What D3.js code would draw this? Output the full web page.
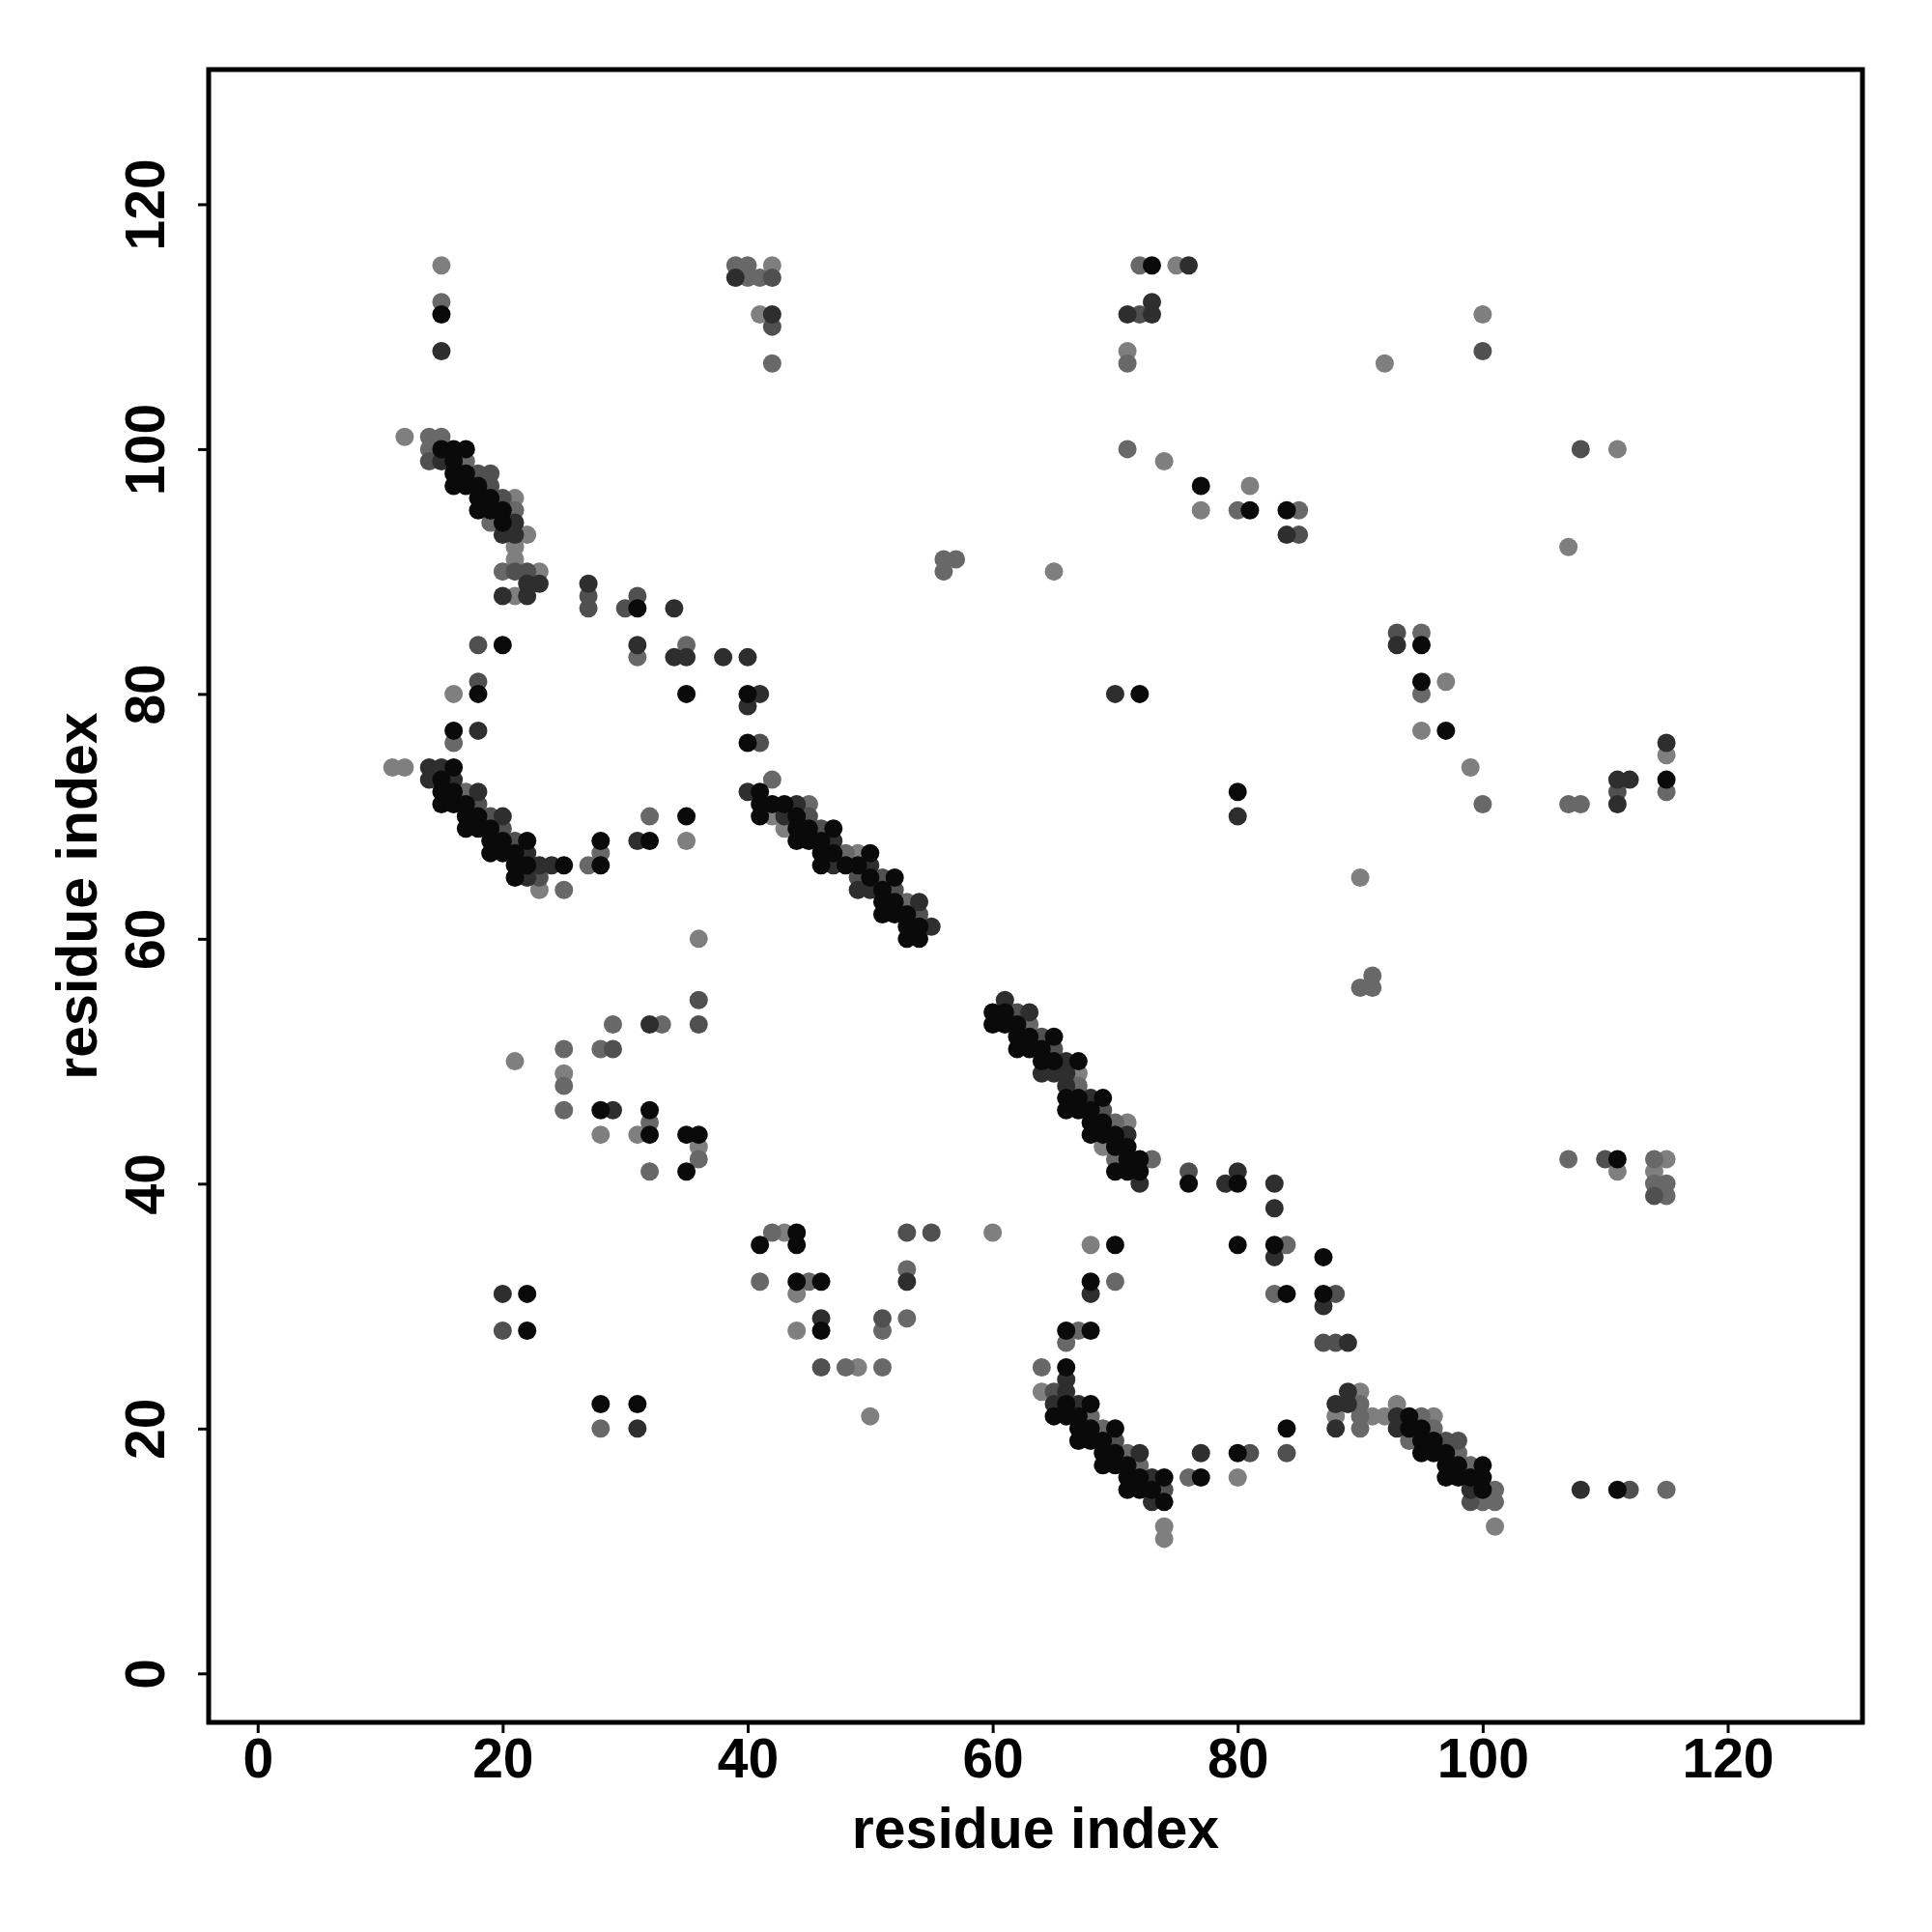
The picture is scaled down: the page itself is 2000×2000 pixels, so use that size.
<!DOCTYPE html>
<html>
<head>
<meta charset="utf-8">
<script src="https://cdn.jsdelivr.net/npm/d3@7"></script>
<style>
  body { margin: 0; background: #fff; }
  text { font-family: "Liberation Sans", Arial, Helvetica, sans-serif; font-weight: bold; }
</style>
</head>
<body>
<div id="vis"></div>
<script>
// Contact map: each point is a residue pair [i, j, score], score 0..1 (higher = darker)
// levels: 0.93 black, 0.67 dark, 0.43 mid, 0.26 gray, 0.09 light

var topLeftPairs = [
  [15,115,0.09],[15,112,0.26],[15,111,0.93],[15,108,0.67],
  [39,115,0.26],[40,115,0.26],[42,115,0.09],[39,114,0.67],[40,114,0.26],[41,114,0.26],[42,114,0.43],
  [41,111,0.09],[42,111,0.67],[42,110,0.43],[42,107,0.26]
];

var strandA = [
  [12,101,0.09],[14,101,0.26],[15,101,0.26],
  [14,100,0.26],[15,100,0.93],[16,100,0.93],[17,100,0.93],
  [14,99,0.43],[15,99,0.67],[16,99,0.93],[17,99,0.26],
  [16,98,0.93],[17,98,0.93],[18,98,0.43],[19,98,0.43],
  [16,97,0.93],[17,97,0.93],[18,97,0.93],[19,97,0.43],
  [18,96,0.93],[19,96,0.93],[20,96,0.43],[21,96,0.09],
  [18,95,0.93],[19,95,0.93],[20,95,0.93],[21,95,0.26],
  [19,94,0.26],[20,94,0.93],[21,94,0.67],
  [20,93,0.67],[21,93,0.67],[22,93,0.09],
  [21,92,0.09],[21,91,0.09],
  [20,90,0.26],[21,90,0.43],[22,90,0.43],[23,90,0.09],
  [22,89,0.67],[23,89,0.67],
  [20,88,0.67],[21,88,0.09],[22,88,0.67]
];

var loopA = [
  [27,89,0.67],[27,88,0.43],[27,87,0.43],[30,87,0.43],[31,88,0.43],[31,87,0.93],[34,87,0.67],
  [18,84,0.43],[20,84,0.93],[31,84,0.67],[31,83,0.26],[34,83,0.67],[35,84,0.26],[35,83,0.67],
  [38,83,0.67],[40,83,0.67],
  [18,81,0.43],[18,80,0.93],[16,80,0.09],[16,77,0.93],[16,76,0.26],[18,77,0.67],
  [35,80,0.93],[40,80,0.93],[41,80,0.67],[40,79,0.67],[40,76,0.93],[41,76,0.43]
];

var strandB = [
  [11,74,0.09],[12,74,0.09],[14,74,0.67],[15,74,0.67],[16,74,0.93],
  [14,73,0.67],[15,73,0.93],[16,73,0.67],
  [15,72,0.93],[16,72,0.93],[17,72,0.26],[18,72,0.67],
  [15,71,0.93],[16,71,0.93],[17,71,0.93],[18,71,0.43],
  [17,70,0.93],[18,70,0.93],[19,70,0.43],[20,70,0.67],
  [17,69,0.93],[18,69,0.93],[19,69,0.93],[20,69,0.43],
  [19,68,0.93],[20,68,0.93],[21,68,0.43],[22,68,0.93],
  [19,67,0.93],[20,67,0.93],[21,67,0.93],[22,67,0.67],
  [21,66,0.93],[22,66,0.93],[23,66,0.67],[24,66,0.67],[25,66,0.93],
  [21,65,0.93],[22,65,0.67],[23,65,0.43],
  [23,64,0.09],[25,64,0.26],
  [27,66,0.26],[28,66,0.93],[28,67,0.26],[28,68,0.93],
  [31,68,0.67],[32,68,0.93],[32,70,0.26],[35,70,0.93],[35,68,0.09]
];

var midLeftPairs = [
  [36,60,0.09],[36,55,0.43],[36,53,0.43],[32,53,0.67],[33,53,0.26],[29,53,0.26],
  [28,51,0.26],[29,51,0.43],[25,51,0.26],[25,49,0.09],[25,48,0.26],[21,50,0.09],
  [25,46,0.26],[28,46,0.93],[29,46,0.67],[32,46,0.93],[32,45,0.26],[32,44,0.93],[31,44,0.09],[28,44,0.09],
  [35,44,0.93],[36,44,0.93],[36,43,0.09],[36,42,0.26],[35,41,0.93],[32,41,0.26],
  [20,31,0.67],[22,31,0.93],[20,28,0.43],[22,28,0.93],
  [28,22,0.93],[31,22,0.93],[28,20,0.26],[31,20,0.67]
];

var strandC = [
  [40,72,0.67],[41,72,0.93],[42,73,0.26],
  [41,71,0.93],[42,71,0.93],[43,71,0.93],[44,71,0.67],[45,71,0.26],
  [41,70,0.93],[42,70,0.09],[43,70,0.67],[44,70,0.93],[45,70,0.43],
  [43,69,0.09],[44,69,0.93],[45,69,0.93],[46,69,0.43],[47,69,0.93],
  [44,68,0.93],[45,68,0.93],[46,68,0.93],[47,68,0.67],
  [46,67,0.93],[47,67,0.93],[48,67,0.26],[49,67,0.09],[50,67,0.93],
  [46,66,0.93],[47,66,0.67],[48,66,0.93],[49,66,0.93],[50,66,0.67],
  [49,65,0.43],[50,65,0.93],[51,65,0.43],[52,65,0.93],
  [49,64,0.67],[50,64,0.67],[51,64,0.93],[52,64,0.43],
  [51,63,0.93],[52,63,0.93],[53,63,0.26],[54,63,0.67],
  [51,62,0.93],[52,62,0.93],[53,62,0.93],[54,62,0.43],
  [53,61,0.93],[54,61,0.93],[55,61,0.67],
  [53,60,0.93],[54,60,0.93]
];

var strandD = [
  [61,55,0.67],[60,54,0.93],[61,54,0.93],[62,54,0.43],[63,54,0.67],
  [60,53,0.93],[61,53,0.93],[62,53,0.93],[63,53,0.26],
  [62,52,0.93],[63,52,0.93],[64,52,0.43],[65,52,0.93],
  [62,51,0.93],[63,51,0.93],[64,51,0.93],[65,51,0.43],
  [64,50,0.93],[65,50,0.93],[66,50,0.67],[67,50,0.93],
  [64,49,0.67],[65,49,0.67],[66,49,0.67],[67,49,0.09],
  [66,48,0.67],[67,48,0.26],
  [66,47,0.93],[67,47,0.93],[68,47,0.67],[69,47,0.93],
  [66,46,0.93],[67,46,0.93],[68,46,0.93],[69,46,0.43],
  [68,45,0.93],[69,45,0.93],[70,45,0.26],[71,45,0.09],
  [68,44,0.93],[69,44,0.93],[70,44,0.93],[71,44,0.67],
  [69,43,0.09],[70,43,0.93],[71,43,0.93],
  [70,42,0.26],[71,42,0.93],[72,42,0.93],[73,42,0.26],
  [70,41,0.93],[71,41,0.93],[72,41,0.93],
  [72,40,0.67],
  [76,41,0.43],[76,40,0.93],[79,40,0.67],[80,41,0.67],[80,40,0.93],[83,40,0.67],[83,38,0.67]
];

var midPairs = [
  [41,35,0.93],[42,36,0.26],[43,36,0.09],[44,36,0.93],[44,35,0.93],
  [41,32,0.26],[44,32,0.93],[44,31,0.09],[44,28,0.09],[45,32,0.26],[46,32,0.93],
  [46,29,0.67],[46,28,0.93],[51,29,0.43],[51,28,0.26],[53,29,0.26],
  [53,36,0.43],[55,36,0.43],[60,36,0.09],[53,33,0.26],[53,32,0.67],
  [46,25,0.43],[48,25,0.26],[49,25,0.09],[51,25,0.26],[50,21,0.09],
  [68,35,0.09],[70,35,0.93],[68,32,0.93],[68,31,0.67],[70,32,0.26],
  [66,28,0.93],[67,28,0.26],[68,28,0.93],[66,27,0.26],
  [64,25,0.26],[66,25,0.93],[66,24,0.67],[64,23,0.09],[65,23,0.43],[66,23,0.67]
];

var strandE = [
  [65,22,0.67],[66,22,0.93],[67,22,0.67],[68,22,0.93],
  [65,21,0.93],[66,21,0.93],[67,21,0.93],[68,21,0.26],
  [67,20,0.93],[68,20,0.93],[69,20,0.26],[70,20,0.93],
  [67,19,0.93],[68,19,0.93],[69,19,0.93],[70,19,0.43],
  [69,18,0.93],[70,18,0.93],[71,18,0.26],[72,18,0.67],
  [69,17,0.93],[70,17,0.93],[71,17,0.93],[72,17,0.26],
  [71,16,0.93],[72,16,0.93],[73,16,0.67],[74,16,0.93],
  [71,15,0.93],[72,15,0.93],[73,15,0.93],[74,15,0.43],
  [73,14,0.67],[74,14,0.93],
  [74,12,0.09],[74,11,0.09],
  [76,16,0.26],[77,16,0.93],[77,18,0.67],[80,18,0.93],[81,18,0.43],[80,16,0.09],[84,20,0.93],[84,18,0.43]
];

var lowRightPairs = [
  [80,35,0.93],[83,35,0.93],[84,35,0.26],[83,34,0.67],[87,34,0.93],
  [83,31,0.26],[84,31,0.93],[87,31,0.93],[88,31,0.43],[87,30,0.67],
  [87,27,0.43],[88,27,0.43],[89,27,0.67],
  [108,15,0.67],[111,15,0.93],[112,15,0.43],[115,15,0.26],
  [107,42,0.26],[110,42,0.43],[111,42,0.93],[111,41,0.09],
  [114,42,0.26],[115,42,0.09],[114,41,0.09],[114,40,0.26],[115,40,0.26],[114,39,0.43],[115,39,0.26]
];

var strandF = [
  [89,23,0.67],[90,23,0.09],[88,22,0.67],[89,22,0.67],[90,22,0.26],
  [88,21,0.09],[90,21,0.26],[88,20,0.67],[90,20,0.26],[91,21,0.09],[92,21,0.09],
  [93,22,0.09],[93,21,0.67],[94,21,0.93],[95,21,0.26],[96,21,0.09],
  [93,20,0.67],[94,20,0.93],[95,20,0.93],[96,20,0.26],
  [94,19,0.26],[95,19,0.93],[96,19,0.93],[97,19,0.43],[98,19,0.43],
  [95,18,0.93],[96,18,0.93],[97,18,0.93],[98,18,0.26],
  [97,17,0.93],[98,17,0.93],[99,17,0.26],[100,17,0.93],
  [97,16,0.93],[98,16,0.93],[99,16,0.93],[100,16,0.93],
  [99,15,0.67],[100,15,0.93],[101,15,0.26],
  [99,14,0.43],[100,14,0.26],[101,14,0.26],
  [101,12,0.09]
];

var upperRightPairs = [
  [72,115,0.26],[73,115,0.93],[75,115,0.09],[76,115,0.67],[73,112,0.67],
  [71,111,0.67],[72,111,0.43],[73,111,0.67],[71,108,0.09],[71,107,0.26],
  [71,100,0.26],[74,99,0.09],[77,97,0.93],[77,95,0.09],[80,95,0.26],[81,95,0.93],[81,97,0.09],
  [84,95,0.93],[85,95,0.26],[84,93,0.67],[85,93,0.43],
  [56,91,0.26],[57,91,0.26],[56,90,0.26],[65,90,0.09],
  [100,111,0.09],[100,108,0.43],[92,107,0.09],[108,100,0.43],[111,100,0.09],[107,92,0.09],
  [93,85,0.43],[93,84,0.67],[95,85,0.26],[95,84,0.93],[95,81,0.93],[95,80,0.26],[97,81,0.09],
  [95,77,0.09],[97,77,0.93],
  [99,74,0.09],[100,71,0.26],[107,71,0.26],[108,71,0.26],
  [111,73,0.67],[112,73,0.67],[111,72,0.43],[111,71,0.67],
  [115,76,0.67],[115,75,0.09],[115,73,0.93],[115,72,0.26],
  [70,80,0.67],[72,80,0.93],[80,72,0.93],[80,70,0.67],
  [90,65,0.09],[91,57,0.26],[90,56,0.26],[91,56,0.26]
];

var tickValues = [0, 20, 40, 60, 80, 100, 120];
var axisTitle = "residue index";

// all pairs, lighter ones first so the dark contacts sit on top
var pairs = [].concat(topLeftPairs, strandA, loopA, strandB, midLeftPairs, strandC,
                      strandD, midPairs, strandE, lowRightPairs, strandF, upperRightPairs)
  .sort(function(a, b) { return a[2] - b[2]; });

// plot box in page pixels
var boxLeft = 216, boxRight = 1928, boxTop = 72, boxBottom = 1783;

var x = d3.scaleLinear().domain([-4, 131]).range([boxLeft, boxRight]);
var y = d3.scaleLinear().domain([-4, 131]).range([boxBottom, boxTop]);
var shade = d3.scaleLinear().domain([0, 1]).range(["#8c8c8c", "#000000"]);

var svg = d3.select("#vis")
    .append("svg")
    .attr("width", 2000)
    .attr("height", 2000);

svg.append("rect")
    .attr("width", 2000)
    .attr("height", 2000)
    .attr("fill", "white");

// points
svg.append("g")
    .selectAll("circle")
    .data(pairs)
    .enter()
    .append("circle")
    .attr("cx", (d) => { return x(d[0]); })
    .attr("cy", (d) => { return y(d[1]); })
    .attr("r", 9.5)
    .attr("fill", (d) => { return shade(d[2]); });

// x axis
var xAxis = svg.append("g")
    .attr("transform", "translate(0," + boxBottom + ")")
    .call(d3.axisBottom(x).tickValues(tickValues).tickSize(11).tickPadding(0).tickFormat(d3.format("d")));
xAxis.select(".domain").remove();
xAxis.selectAll("line").attr("stroke", "black").attr("stroke-width", 3);
xAxis.selectAll("text")
    .attr("dy", null)
    .attr("y", 57)
    .attr("fill", "black")
    .style("font-size", "57px");

// y axis, labels parallel to the axis
var yAxis = svg.append("g")
    .attr("transform", "translate(" + boxLeft + ",0)")
    .call(d3.axisLeft(y).tickValues(tickValues).tickSize(11).tickPadding(0).tickFormat(d3.format("d")));
yAxis.select(".domain").remove();
yAxis.selectAll("line").attr("stroke", "black").attr("stroke-width", 3);
yAxis.selectAll("text")
    .attr("x", null)
    .attr("dy", null)
    .attr("text-anchor", "middle")
    .attr("transform", "translate(-46,0) rotate(-90)")
    .attr("fill", "black")
    .style("font-size", "57px");

// box
svg.append("rect")
    .attr("x", boxLeft)
    .attr("y", boxTop)
    .attr("width", boxRight - boxLeft)
    .attr("height", boxBottom - boxTop)
    .attr("fill", "none")
    .attr("stroke", "black")
    .attr("stroke-width", 5);

// axis titles
svg.append("text")
    .attr("x", (boxLeft + boxRight) / 2)
    .attr("y", 1913)
    .attr("text-anchor", "middle")
    .style("font-size", "59px")
    .text(axisTitle);

svg.append("text")
    .attr("transform", "translate(100," + (boxTop + boxBottom) / 2 + ") rotate(-90)")
    .attr("text-anchor", "middle")
    .style("font-size", "59px")
    .text(axisTitle);
</script>
</body>
</html>
